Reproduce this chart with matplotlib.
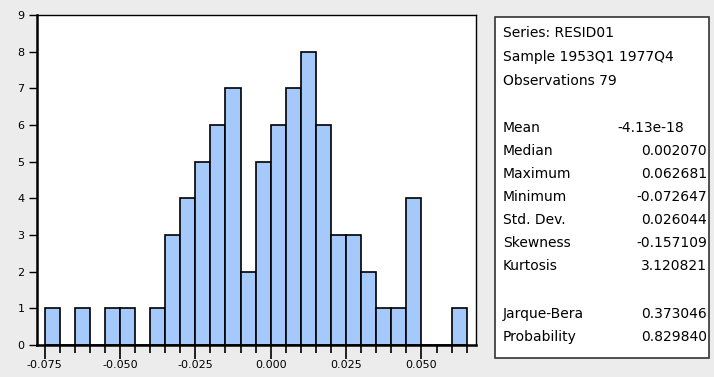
import matplotlib as mpl
mpl.use('Agg')
import matplotlib.pyplot as plt
from matplotlib.patches import Rectangle

# residual histogram, bins of width 0.005
bin_lefts = [-0.075, -0.070, -0.065, -0.060, -0.055, -0.050, -0.045, -0.040,
             -0.035, -0.030, -0.025, -0.020, -0.015, -0.010, -0.005, 0.000,
             0.005, 0.010, 0.015, 0.020, 0.025, 0.030, 0.035, 0.040,
             0.045, 0.050, 0.055, 0.060]
counts = [1, 0, 1, 0, 1, 1, 0, 1,
          3, 4, 5, 6, 7, 2, 5, 6,
          7, 8, 6, 3, 3, 2, 1, 1,
          4, 0, 0, 1]
bin_width = 0.005

major_ticks = [-0.075, -0.050, -0.025, 0.000, 0.025, 0.050]
major_labels = ["-0.075", "-0.050", "-0.025", "0.000", "0.025", "0.050"]

header = ["Series: RESID01", "Sample 1953Q1 1977Q4", "Observations 79"]
stat_names = ["Mean", "Median", "Maximum", "Minimum", "Std. Dev.",
              "Skewness", "Kurtosis"]
stat_values = ["-4.13e-18", "0.002070", "0.062681", "-0.072647",
               "0.026044", "-0.157109", "3.120821"]
test_names = ["Jarque-Bera", "Probability"]
test_values = ["0.373046", "0.829840"]

W, H = 714, 377
bg = '#ececec'
fig = plt.figure(figsize=(W / 100, H / 100), dpi=100, facecolor=bg)


def fx(px):
    return px / W


def fy(py):
    return 1 - py / H


ax = fig.add_axes([fx(37), fy(345), fx(476) - fx(37), fy(15) - fy(345)])
ax.set_facecolor('white')
ax.bar(bin_lefts, counts, width=bin_width, align='edge',
       color='#a5c9fb', edgecolor='black', linewidth=1.2, zorder=2)

ax.set_xlim(-0.0775, 0.0681)
ax.set_ylim(0, 9)
ax.set_yticks(range(10))
ax.set_yticklabels([str(i) for i in range(10)], fontsize=8)
ax.set_xticks(major_ticks)
ax.set_xticklabels(major_labels, fontsize=8)
edges = bin_lefts + [bin_lefts[-1] + bin_width]
ax.set_xticks([e for e in edges if round(e, 3) not in major_ticks], minor=True)
ax.tick_params(axis='x', which='major', length=10, width=1.2, pad=1)
ax.tick_params(axis='x', which='minor', length=6, width=1.2)
ax.tick_params(axis='y', length=6, width=1.0, pad=3)

for side in ['left', 'bottom']:
    ax.spines[side].set_linewidth(1.8)
for side in ['top', 'right']:
    ax.spines[side].set_linewidth(1.0)

# statistics panel
fig.patches.append(Rectangle((fx(495), fy(358)), fx(709) - fx(495),
                             fy(17) - fy(358), transform=fig.transFigure,
                             facecolor='white', edgecolor='#333333',
                             linewidth=1.2))

fs = 10
y = 33
for line in header:
    fig.text(fx(503), fy(y), line, fontsize=fs, va='center', ha='left')
    y += 24

y = 128
for name, val in zip(stat_names, stat_values):
    fig.text(fx(503), fy(y), name, fontsize=fs, va='center', ha='left')
    xr = 684 if name == "Mean" else 707
    fig.text(fx(xr), fy(y), val, fontsize=fs, va='center', ha='right')
    y += 23

y = 314
for name, val in zip(test_names, test_values):
    fig.text(fx(503), fy(y), name, fontsize=fs, va='center', ha='left')
    fig.text(fx(707), fy(y), val, fontsize=fs, va='center', ha='right')
    y += 23

fig.savefig('out.png', dpi=100, facecolor=bg)
